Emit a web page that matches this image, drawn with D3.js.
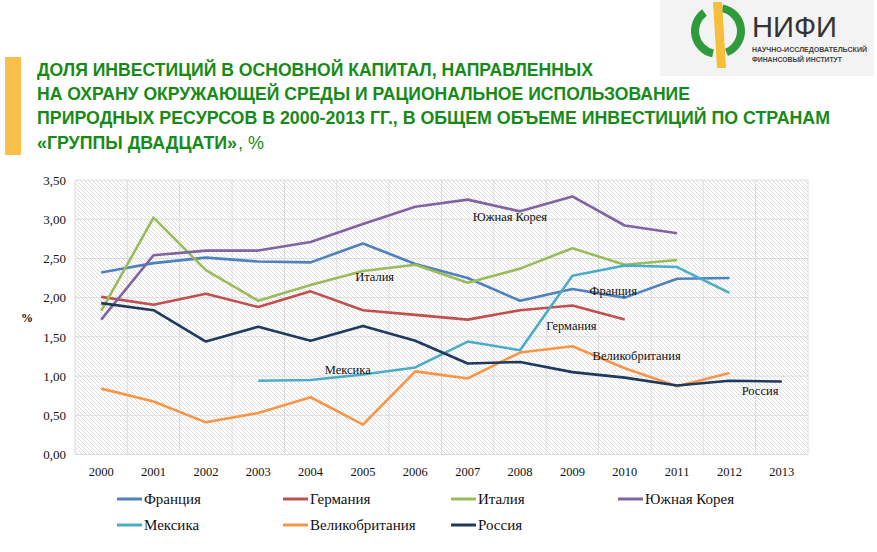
<!DOCTYPE html>
<html><head><meta charset="utf-8">
<script src="https://cdn.jsdelivr.net/npm/d3@7"></script>
<style>body{margin:0;background:#fff;}svg{display:block;}</style>
</head><body>
<svg id="c" width="877" height="552"></svg>
<script>
const years = ["2000","2001","2002","2003","2004","2005","2006","2007","2008","2009","2010","2011","2012","2013"];
const yTicks = [0,0.5,1,1.5,2,2.5,3,3.5];
const seriesNames = ["Франция","Германия","Италия","Южная Корея","Мексика","Великобритания","Россия"];
const seriesColors = ["#4f81bd","#c0504d","#9bbb59","#8064a2","#4bacc6","#f79646","#1f3a5f"];
const france  = [2.32,2.44,2.51,2.46,2.45,2.69,2.43,2.25,1.96,2.11,2.00,2.24,2.25,null];
const germany = [2.01,1.91,2.05,1.88,2.08,1.84,1.78,1.72,1.84,1.90,1.72,null,null,null];
const italy   = [1.83,3.02,2.35,1.96,2.16,2.34,2.42,2.19,2.37,2.63,2.42,2.48,null,null];
const korea   = [1.72,2.54,2.60,2.60,2.71,2.94,3.16,3.25,3.10,3.29,2.92,2.82,null,null];
const mexico  = [null,null,null,0.94,0.95,1.02,1.11,1.44,1.33,2.28,2.41,2.39,2.06,null];
const uk      = [0.84,0.675,0.41,0.53,0.73,0.38,1.06,0.97,1.30,1.38,1.10,0.87,1.04,null];
const russia  = [1.93,1.84,1.44,1.63,1.45,1.64,1.45,1.16,1.18,1.05,0.98,0.88,0.94,0.93];
const seriesValues = [france,germany,italy,korea,mexico,uk,russia];
const inLabels = [
  {name:"Италия", year:"2006", v:2.21, dx:-34},
  {name:"Южная Корея", year:"2008", v:2.98, dx:-21},
  {name:"Франция", year:"2010", v:2.03, dx:-9},
  {name:"Германия", year:"2009", v:1.59, dx:0},
  {name:"Великобритания", year:"2010", v:1.21, dx:-6},
  {name:"Россия", year:"2013", v:0.76, dx:-14},
  {name:"Мексика", year:"2005", v:1.03, dx:-12}
];
const titleLines = [
  "ДОЛЯ ИНВЕСТИЦИЙ В ОСНОВНОЙ КАПИТАЛ, НАПРАВЛЕННЫХ",
  "НА ОХРАНУ ОКРУЖАЮЩЕЙ СРЕДЫ И РАЦИОНАЛЬНОЕ ИСПОЛЬЗОВАНИЕ",
  "ПРИРОДНЫХ РЕСУРСОВ В 2000-2013 ГГ., В ОБЩЕМ ОБЪЕМЕ ИНВЕСТИЦИЙ ПО СТРАНАМ",
  "«ГРУППЫ ДВАДЦАТИ»"
];

const svg = d3.select("#c");
const serif = "'Liberation Serif','Times New Roman',serif";
const narrow = "'Liberation Sans Narrow','Arial Narrow','Liberation Sans',Arial,sans-serif";
const sans = "'Liberation Sans',Arial,sans-serif";

// Logo box
svg.append("rect").attr("x",660).attr("y",0).attr("width",214).attr("height",76).attr("fill","#f3f3f3");
const lg = svg.append("g");
const arc = d3.arc().innerRadius(19).outerRadius(27);
lg.append("path").attr("transform","translate(718,31)")
  .attr("d", arc({startAngle: -Math.PI*0.2, endAngle: -Math.PI*0.93})).attr("fill","#2f9b3c");
lg.append("path").attr("transform","translate(718,31)")
  .attr("d", arc({startAngle: Math.PI*0.06, endAngle: Math.PI*0.88})).attr("fill","#2f9b3c");
lg.append("polygon").attr("points","713,2 722,2 726,68 717,68").attr("fill","#f6bf3a");
lg.append("text").attr("x",752).attr("y",37).attr("font-family",sans)
  .attr("font-size",30).attr("fill","#333").attr("textLength",85).attr("lengthAdjust","spacingAndGlyphs").text("НИФИ");
lg.append("text").attr("x",752).attr("y",52).attr("font-family",sans)
  .attr("font-size",6.5).attr("font-weight","bold").attr("fill","#444").attr("textLength",115).attr("lengthAdjust","spacingAndGlyphs").text("НАУЧНО-ИССЛЕДОВАТЕЛЬСКИЙ");
lg.append("text").attr("x",752).attr("y",62).attr("font-family",sans)
  .attr("font-size",6.5).attr("font-weight","bold").attr("fill","#444").attr("textLength",90).attr("lengthAdjust","spacingAndGlyphs").text("ФИНАНСОВЫЙ ИНСТИТУТ");

// Yellow bar + title
svg.append("rect").attr("x",5).attr("y",57).attr("width",16).attr("height",98).attr("fill","#fbc04c");
const tl = [556, 653, 793, 200];
const ty = [76, 100, 124, 149];
titleLines.forEach((t,i)=>{
  svg.append("text").attr("x",37).attr("y",ty[i]).attr("font-family",narrow)
    .attr("font-size",18).attr("font-weight","bold").attr("fill","#178a17")
    .attr("textLength",tl[i]).attr("lengthAdjust","spacingAndGlyphs").text(t);
});
svg.append("text").attr("x",238).attr("y",149).attr("font-family",narrow).attr("font-size",18)
  .attr("fill","#178a17").text(", %");

// Plot
const L=75, R=808, T=180, B=454.5;
const x = d3.scaleBand().domain(years).range([L,R]);
const y = d3.scaleLinear().domain([0,3.5]).range([B,T]);

const defs = svg.append("defs");
const pat = defs.append("pattern").attr("id","hatch").attr("patternUnits","userSpaceOnUse")
  .attr("width",4).attr("height",4);
pat.append("path").attr("d","M-1,-1 L5,5 M-1,3 L1,5 M3,-1 L5,1").attr("stroke","#d4d4d4").attr("stroke-width",0.8);
svg.append("rect").attr("x",L).attr("y",T).attr("width",R-L).attr("height",B-T).attr("fill","url(#hatch)");

const grid = svg.append("g").attr("stroke","#dcdcdc").attr("stroke-width",1);
yTicks.forEach(v=>grid.append("line").attr("x1",L).attr("x2",R).attr("y1",y(v)).attr("y2",y(v)));
years.forEach(yr=>grid.append("line").attr("x1",x(yr)).attr("x2",x(yr)).attr("y1",T).attr("y2",B));
grid.append("line").attr("x1",R).attr("x2",R).attr("y1",T).attr("y2",B);

// Axes
const yAxis = svg.append("g").attr("transform",`translate(${L-9},0)`)
  .call(d3.axisLeft(y).tickValues(yTicks).tickSize(0).tickFormat(d=>d3.format(".2f")(d).replace(".",",")));
yAxis.select(".domain").remove();
yAxis.selectAll("text").attr("font-family",serif).attr("font-size",13).attr("fill","#111").attr("x",0);
const xAxis = svg.append("g").attr("transform",`translate(0,${B+10})`)
  .call(d3.axisBottom(x).tickSize(0));
xAxis.select(".domain").remove();
xAxis.selectAll("text").attr("font-family",serif).attr("font-size",12.5).attr("fill","#111").attr("dy","0.71em");
svg.append("text").attr("x",27).attr("y",322).attr("font-family",serif).attr("font-size",12)
  .attr("font-weight","bold").attr("text-anchor","middle").attr("fill","#111").text("%");

// Lines
const line = d3.line().defined(d=>d.v!=null).x(d=>x(d.year)+x.bandwidth()/2).y(d=>y(d.v));
seriesValues.forEach((vals,i)=>{
  const data = years.map((yr,j)=>({year:yr,v:vals[j]}));
  svg.append("path").datum(data).attr("d",line).attr("fill","none")
    .attr("stroke",seriesColors[i]).attr("stroke-width",2.6).attr("stroke-linejoin","round");
});

// In-plot labels
inLabels.forEach(l=>{
  svg.append("text").attr("x",x(l.year)+l.dx).attr("y",y(l.v)).attr("font-family",serif)
    .attr("font-size",12.5).attr("fill","#111").text(l.name);
});

// Legend
const legX = [117,283,451,618], legY=[499,525];
seriesNames.forEach((n,i)=>{
  const lx = legX[i%4], ly = legY[Math.floor(i/4)];
  svg.append("line").attr("x1",lx).attr("x2",lx+25).attr("y1",ly).attr("y2",ly)
    .attr("stroke",seriesColors[i]).attr("stroke-width",3);
  svg.append("text").attr("x",lx+27).attr("y",ly+5).attr("font-family",serif).attr("font-size",15)
    .attr("fill","#111").text(n);
});
</script>
</body></html>
